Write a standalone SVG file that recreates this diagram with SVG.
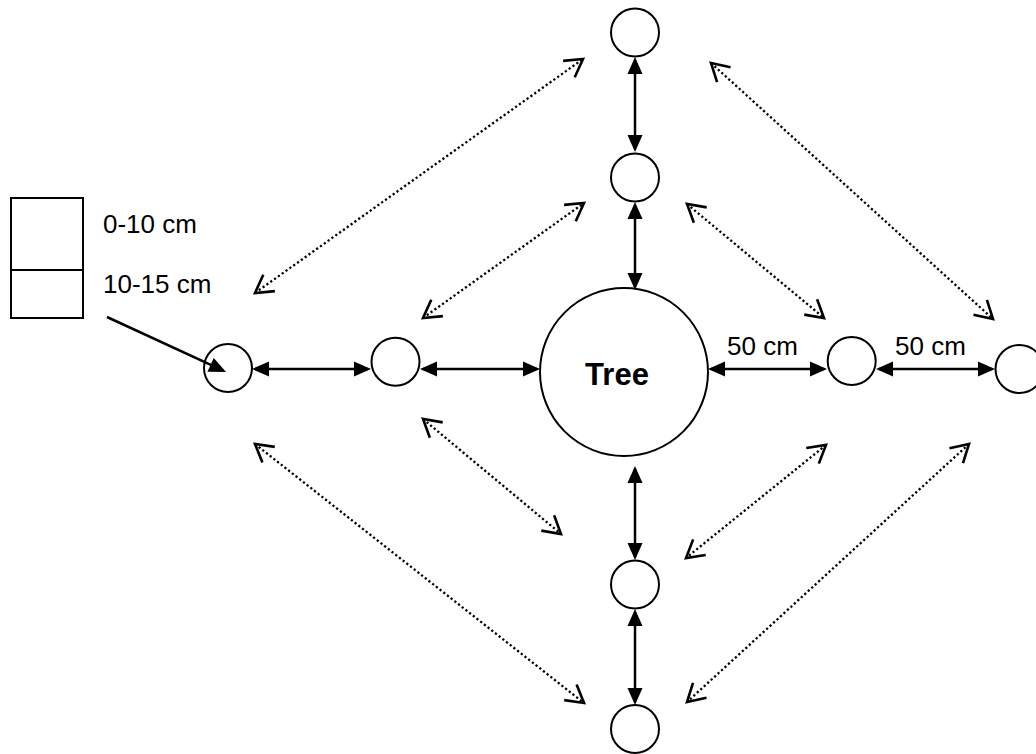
<svg xmlns="http://www.w3.org/2000/svg" width="1036" height="754" viewBox="0 0 1036 754">
  <style>
    .node { fill: #ffffff; stroke: #000000; stroke-width: 2; }
    .solid { fill: none; stroke: #000000; stroke-width: 2.5; }
    .dotted { fill: none; stroke: #000000; stroke-width: 2.3; stroke-dasharray: 2.2 2.5; }
    .label { font-family: "Liberation Sans", Arial, sans-serif; font-size: 26px; fill: #000000; }
    .title { font-family: "Liberation Sans", Arial, sans-serif; font-size: 31px; font-weight: bold; fill: #000000; }
  </style>
  <defs>
    <!-- filled head for the distance arrows -->
    <marker id="head" markerUnits="userSpaceOnUse" markerWidth="17" markerHeight="15" refX="14" refY="7.5" orient="auto-start-reverse" overflow="visible">
      <path d="M0,0 L17,7.5 L0,15 z" fill="#000000"/>
    </marker>
    <!-- open V head for the diagonal comparison arrows -->
    <marker id="vee" markerUnits="userSpaceOnUse" markerWidth="22" markerHeight="24" viewBox="-20 -12 22 24" refX="0" refY="0" orient="auto-start-reverse" overflow="visible">
      <path d="M-17.3,-10 L0,0 L-17.3,10" fill="none" stroke="#000000" stroke-width="2.6" stroke-linejoin="miter"/>
    </marker>
  </defs>

  <rect width="1036" height="754" fill="#ffffff"/>

  <!-- sampling depth legend -->
  <g id="legend">
    <rect x="11" y="198" width="72" height="120" fill="none" stroke="#000000" stroke-width="2"/>
    <line x1="11" y1="270" x2="83" y2="270" stroke="#000000" stroke-width="2"/>
    <text class="label" x="103" y="233">0-10 cm</text>
    <text class="label" x="103" y="293">10-15 cm</text>
  </g>

  <!-- central tree -->
  <g id="tree">
    <circle class="node" cx="624" cy="372" r="84"/>
    <text class="title" x="617" y="385" text-anchor="middle">Tree</text>
  </g>

  <!-- sampling points -->
  <g id="point-n2"><circle class="node" cx="635" cy="32.5" r="24"/></g>
  <g id="point-n1"><circle class="node" cx="635" cy="177.5" r="24"/></g>
  <g id="point-s1"><circle class="node" cx="635" cy="584.5" r="24"/></g>
  <g id="point-s2"><circle class="node" cx="635" cy="729" r="24"/></g>
  <g id="point-w2"><circle class="node" cx="228" cy="368" r="24"/></g>
  <g id="point-w1"><circle class="node" cx="395.5" cy="361.7" r="24"/></g>
  <g id="point-e1"><circle class="node" cx="851.7" cy="361" r="24"/></g>
  <g id="point-e2"><circle class="node" cx="1019.5" cy="369" r="24"/></g>

  <!-- connectors -->
  <g id="connectors">
    <!-- north / south axis -->
    <line class="solid" x1="635" y1="60" x2="635" y2="149" marker-start="url(#head)" marker-end="url(#head)"/>
    <line class="solid" x1="635" y1="205" x2="635" y2="287" marker-start="url(#head)" marker-end="url(#head)"/>
    <line class="solid" x1="635" y1="469" x2="635" y2="557" marker-start="url(#head)" marker-end="url(#head)"/>
    <line class="solid" x1="635" y1="612" x2="635" y2="702" marker-start="url(#head)" marker-end="url(#head)"/>
    <!-- west / east axis -->
    <line class="solid" x1="255" y1="369" x2="368" y2="369" marker-start="url(#head)" marker-end="url(#head)"/>
    <line class="solid" x1="423" y1="369" x2="537" y2="369" marker-start="url(#head)" marker-end="url(#head)"/>
    <line class="solid" x1="711" y1="369" x2="824" y2="369" marker-start="url(#head)" marker-end="url(#head)"/>
    <line class="solid" x1="879" y1="369" x2="992" y2="369" marker-start="url(#head)" marker-end="url(#head)"/>
    <!-- legend pointer -->
    <line class="solid" x1="107" y1="317" x2="223.3" y2="370.7" marker-end="url(#head)"/>
    <!-- diagonal comparisons -->
    <line class="dotted" x1="255" y1="293" x2="583" y2="59" marker-start="url(#vee)" marker-end="url(#vee)"/>
    <line class="dotted" x1="423" y1="318" x2="584" y2="203" marker-start="url(#vee)" marker-end="url(#vee)"/>
    <line class="dotted" x1="711" y1="63" x2="993" y2="319" marker-start="url(#vee)" marker-end="url(#vee)"/>
    <line class="dotted" x1="687" y1="204" x2="824" y2="318" marker-start="url(#vee)" marker-end="url(#vee)"/>
    <line class="dotted" x1="423" y1="419" x2="561" y2="534" marker-start="url(#vee)" marker-end="url(#vee)"/>
    <line class="dotted" x1="255" y1="444" x2="584" y2="703" marker-start="url(#vee)" marker-end="url(#vee)"/>
    <line class="dotted" x1="826" y1="445" x2="686" y2="558" marker-start="url(#vee)" marker-end="url(#vee)"/>
    <line class="dotted" x1="969" y1="444" x2="687" y2="702" marker-start="url(#vee)" marker-end="url(#vee)"/>
  </g>

  <!-- distance labels -->
  <g id="distance-labels">
    <text class="label" x="727" y="355">50 cm</text>
    <text class="label" x="895" y="355">50 cm</text>
  </g>
</svg>
